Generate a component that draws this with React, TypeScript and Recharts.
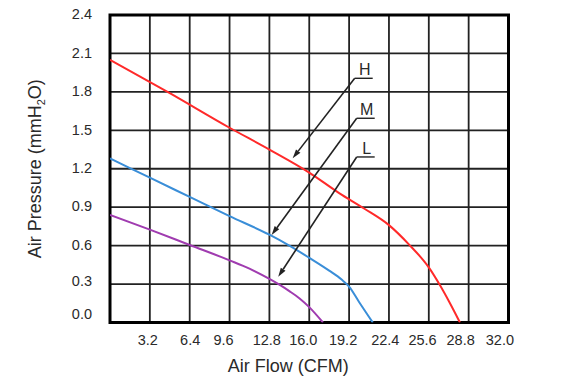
import React from 'react';
import {
  LineChart,
  Line,
  XAxis,
  YAxis,
  CartesianGrid,
  ReferenceArea,
  ReferenceLine,
  Label,
} from 'recharts';

// ---- Data ----
const xTicks = [0, 3.2, 6.4, 9.6, 12.8, 16.0, 19.2, 22.4, 25.6, 28.8, 32.0];
const yTicks = [0, 0.3, 0.6, 0.9, 1.2, 1.5, 1.8, 2.1, 2.4];

const highFlow = [0, 4.8, 9.6, 12.8, 16.0, 18.4, 20.4, 22.4, 24.0, 25.6, 26.5, 27.3, 28.1];
const highPressure = [2.05, 1.79, 1.52, 1.35, 1.17, 1.01, 0.89, 0.76, 0.61, 0.43, 0.29, 0.15, 0];

const midFlow = [0, 3.2, 6.4, 9.6, 12.8, 14.4, 16.0, 17.6, 18.6, 19.2, 20.0, 21.1];
const midPressure = [1.28, 1.13, 0.98, 0.83, 0.685, 0.6, 0.505, 0.405, 0.335, 0.28, 0.16, 0];

const lowFlow = [0, 3.2, 6.4, 9.6, 11.2, 12.8, 13.6, 14.4, 15.2, 16.0, 17.1];
const lowPressure = [0.84, 0.725, 0.605, 0.485, 0.42, 0.34, 0.295, 0.245, 0.19, 0.12, 0];

const annotLabels = ['H', 'M', 'L'];
const annotStartX = [19.65, 19.81, 19.81];
const annotStartY = [1.906, 1.594, 1.292];
const annotTipX = [14.67, 12.98, 13.51];
const annotTipY = [1.282, 0.683, 0.357];

const xTitle = 'Air Flow (CFM)';

const toSeries = (xs: number[], ys: number[]) => xs.map((x, i) => ({ x, y: ys[i] }));
const highData = toSeries(highFlow, highPressure);
const midData = toSeries(midFlow, midPressure);
const lowData = toSeries(lowFlow, lowPressure);

// ---- Styling ----
const FONT = 'Liberation Sans, Arial, Helvetica, sans-serif';
const TEXT = '#2a2a2a';
const xTickShift = [0, -2, 0.5, -6, -2.6, -6, -6, -3.7, -6.3, -8, -8.6];

const XTick = (props: any) => {
  const { x, y, payload, index } = props;
  if (Number(payload.value) === 0) return <g />;
  return (
    <text
      x={x + (xTickShift[index] ?? 0)}
      y={y + 22}
      textAnchor="middle"
      fill={TEXT}
      fontSize={14.5}
      fontFamily={FONT}
    >
      {Number(payload.value).toFixed(1)}
    </text>
  );
};

const YTick = (props: any) => {
  const { x, y, payload } = props;
  const v = Number(payload.value);
  const shift = v === 0 ? -9 : Math.abs(v - 0.3) < 1e-6 ? -3 : -1;
  return (
    <text
      x={x}
      y={y + 5.2 + shift}
      textAnchor="end"
      fill={TEXT}
      fontSize={14.5}
      fontFamily={FONT}
    >
      {v.toFixed(1)}
    </text>
  );
};

const XTitle = (props: any) => {
  const vb = props.viewBox || {};
  const cx = vb.x + vb.width / 2 - 21;
  return (
    <text x={cx} y={vb.y + 49.5} textAnchor="middle" fill={TEXT} fontSize={18} fontFamily={FONT}>
      {xTitle}
    </text>
  );
};

const YTitle = (props: any) => {
  const vb = props.viewBox || {};
  const cy = vb.y + vb.height / 2;
  const bx = 41;
  return (
    <text
      x={bx}
      y={cy}
      transform={`rotate(-90, ${bx}, ${cy})`}
      textAnchor="middle"
      fill={TEXT}
      fontSize={18}
      fontFamily={FONT}
    >
      Air Pressure (mmH
      <tspan fontSize={11} dy={4}>2</tspan>
      <tspan dy={-4}>O)</tspan>
    </text>
  );
};

const makeAnnotation = (label: string) => (props: any) => {
  const { x1, y1, x2, y2 } = props;
  const dx = x2 - x1;
  const dy = y2 - y1;
  const len = Math.hypot(dx, dy) || 1;
  const ux = dx / len;
  const uy = dy / len;
  const ah = 9;
  const aw = 2.8;
  const bx = x2 - ux * ah;
  const by = y2 - uy * ah;
  const pts = `${x2},${y2} ${bx - uy * aw},${by + ux * aw} ${bx + uy * aw},${by - ux * aw}`;
  return (
    <g>
      <line x1={x1} y1={y1} x2={bx} y2={by} stroke="#222" strokeWidth={1.6} />
      <polygon points={pts} fill="#222" />
      <line x1={x1} y1={y1} x2={x1 + 18} y2={y1} stroke="#222" strokeWidth={1.4} />
      <text x={x1 + 10} y={y1 - 3} textAnchor="middle" fontSize={16} fill={TEXT} fontFamily={FONT}>
        {label}
      </text>
    </g>
  );
};

export default function App() {
  return (
    <div style={{ position: 'absolute', left: 0, top: 0, width: 580, height: 384, background: '#fff' }}>
      <LineChart
        width={580}
        height={384}
        margin={{ top: 15, right: 71.5, bottom: 21.5, left: 0 }}
      >
        <CartesianGrid stroke="#222" strokeWidth={1.8} />
        <XAxis
          dataKey="x"
          type="number"
          domain={[0, 32]}
          ticks={xTicks}
          interval={0}
          allowDataOverflow
          height={40}
          axisLine={false}
          tickLine={false}
          tickSize={0}
          tickMargin={0}
          tick={<XTick />}
        >
          <Label content={<XTitle />} />
        </XAxis>
        <YAxis
          dataKey="y"
          type="number"
          domain={[0, 2.4]}
          ticks={yTicks}
          interval={0}
          allowDataOverflow
          width={110}
          axisLine={false}
          tickLine={false}
          tickSize={0}
          tickMargin={18}
          tick={<YTick />}
        >
          <Label content={<YTitle />} />
        </YAxis>
        <ReferenceArea
          x1={0}
          x2={32}
          y1={0}
          y2={2.4}
          fill="none"
          fillOpacity={0}
          stroke="#000"
          strokeWidth={3}
          ifOverflow="visible"
        />
        <Line
          data={highData}
          dataKey="y"
          type="monotone"
          stroke="#ff2a2a"
          strokeWidth={2}
          dot={false}
          isAnimationActive={false}
        />
        <Line
          data={midData}
          dataKey="y"
          type="monotone"
          stroke="#3a8ed8"
          strokeWidth={2}
          dot={false}
          isAnimationActive={false}
        />
        <Line
          data={lowData}
          dataKey="y"
          type="monotone"
          stroke="#a03cb0"
          strokeWidth={2}
          dot={false}
          isAnimationActive={false}
        />
        {annotLabels.map((lab, i) => (
          <ReferenceLine
            key={lab}
            segment={[
              { x: annotStartX[i], y: annotStartY[i] },
              { x: annotTipX[i], y: annotTipY[i] },
            ]}
            ifOverflow="visible"
            stroke="#222"
            shape={makeAnnotation(lab)}
          />
        ))}
      </LineChart>
    </div>
  );
}
